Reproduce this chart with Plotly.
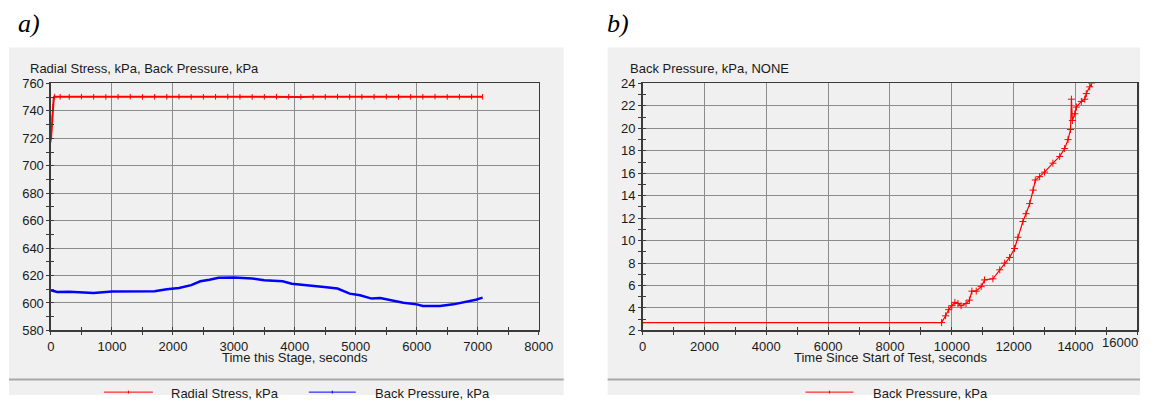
import plotly.graph_objects as go

# ---------------- data ----------------
# Panel a: Radial stress (red) vs time this stage
radial_t = [0, 10, 20, 30, 45, 60, 150, 300, 500, 700, 900, 1100, 1300, 1500, 1700, 1900,
            2100, 2300, 2500, 2700, 2900, 3100, 3300, 3500, 3700, 3900, 4100, 4300, 4500,
            4700, 4900, 5100, 5300, 5500, 5700, 5900, 6100, 6300, 6500, 6700, 6900, 7080]
radial_v = [719, 727, 735, 743, 749, 750.4, 750.3, 750.2, 750.4, 750.3, 750.2, 750.3, 750.4, 750.2,
            750.3, 750.3, 750.4, 750.2, 750.3, 750.3, 750.4, 750.3, 750.2, 750.3, 750.4, 750.3,
            750.2, 750.3, 750.3, 750.4, 750.2, 750.3, 750.3, 750.4, 750.2, 750.3, 750.3, 750.4,
            750.2, 750.3, 750.4, 750.3]

# Panel a: Back pressure (blue) vs time this stage
bp_a_t = [0, 100, 300, 500, 700, 1000, 1300, 1700, 1900, 2100, 2300, 2450, 2600, 2750, 3000,
          3300, 3500, 3800, 3950, 4250, 4480, 4700, 4900, 5070, 5260, 5400, 5560, 5780,
          6000, 6100, 6250, 6380, 6600, 6810, 6970, 7080]
bp_a_v = [609.3, 608.0, 608.2, 607.6, 607.3, 608.3, 608.4, 608.5, 610.0, 611.0, 613.0, 615.8,
          617.0, 618.4, 618.5, 617.8, 616.6, 615.8, 614.1, 612.9, 611.7, 610.5, 606.8, 605.6,
          603.2, 603.7, 602.0, 600.2, 599.0, 597.8, 597.8, 597.8, 599.0, 600.7, 602.4, 603.9]

# Panel b: Back pressure (red) vs time since start of test
bp_b_t = [0, 9670, 9800, 9900, 10000, 10100, 10200, 10300, 10460, 10570, 10650, 10790, 10950,
          11060, 11330, 11550, 11710, 11870, 12030, 12140, 12300, 12400, 12520, 12630, 12700,
          12840, 13000, 13270, 13490, 13650, 13760, 13840, 13870, 13900, 13980, 14030, 14190,
          14300, 14350, 14460, 14520]
bp_b_v = [2.7, 2.7, 3.3, 3.85, 4.2, 4.5, 4.4, 4.2, 4.4, 4.7, 5.5, 5.5, 5.9, 6.5, 6.6, 7.4,
          8.0, 8.5, 9.3, 10.3, 11.7, 12.4, 13.3, 14.5, 15.4, 15.7, 16.1, 16.9, 17.5, 18.2,
          19.0, 19.9, 22.6, 20.7, 21.3, 21.9, 22.4, 22.6, 23.1, 23.7, 24.0]

# axis ticks
a_xticks = list(range(0, 8001, 1000))
a_yticks = list(range(580, 761, 20))
b_xticks = list(range(0, 16001, 2000))
b_xticktext = [str(v) for v in b_xticks[:-1]] + [""]   # last label drawn as annotation (kept inside page)
b_yticks = list(range(2, 25, 2))

# ---------------- figure ----------------
W, H = 1154, 403
FONT = "Liberation Sans, Arial, sans-serif"
GRID = "#8c8c8c"
AXC = "#3a3a3a"
SX, OX = 0.985, 3.0   # horizontal compensation of the page capture
SY, OY = 0.963, 6.5   # vertical compensation of the page capture


def px(x):
    return (x - OX) / SX / W


def py(y):
    return 1 - ((y - OY) / SY) / H


def pp(p):
    # direct paper pixel (from top) -> paper fraction
    return 1 - p / H


fig = go.Figure()

fig.add_trace(go.Scatter(x=radial_t, y=radial_v, mode="lines+markers", name="Radial Stress, kPa",
                         line=dict(color="#ff0000", width=2),
                         marker=dict(symbol="line-ns", size=4, color="#ff0000",
                                     line=dict(width=1, color="#ff0000")),
                         xaxis="x", yaxis="y", showlegend=False))
fig.add_trace(go.Scatter(x=bp_a_t, y=bp_a_v, mode="lines", name="Back Pressure, kPa",
                         line=dict(color="#0000ff", width=2.5),
                         xaxis="x", yaxis="y", showlegend=False))
fig.add_trace(go.Scatter(x=bp_b_t, y=bp_b_v, mode="lines+markers", name="Back Pressure, kPa",
                         line=dict(color="#ff0000", width=1.2),
                         marker=dict(symbol="cross-thin", size=5, color="#ff0000",
                                     line=dict(width=1, color="#ff0000")),
                         xaxis="x2", yaxis="y2", showlegend=False, cliponaxis=True))

dom_y = [py(330), py(83)]
dom_xa = [px(50), px(538)]
dom_xb = [px(642), min(1.0, px(1137))]

common = dict(showline=True, linecolor=AXC, linewidth=1.5, mirror=True,
              showgrid=True, gridcolor=GRID, gridwidth=1, zeroline=False,
              ticks="outside", ticklen=3, tickwidth=1, tickcolor=AXC, tickformat="d",
              tickfont=dict(family=FONT, size=13, color="#1a1a1a"), fixedrange=True)

fig.update_layout(
    xaxis=dict(domain=dom_xa, anchor="y", range=[0, 8000], tickvals=a_xticks,
               minor=dict(dtick=500, ticks="outside", ticklen=3, tickcolor=AXC, showgrid=False),
               **common),
    yaxis=dict(domain=dom_y, anchor="x", range=[580, 760], tickvals=a_yticks,
               minor=dict(dtick=10, tick0=580, ticks="outside", ticklen=3, tickcolor=AXC, showgrid=False),
               **common),
    xaxis2=dict(domain=dom_xb, anchor="y2", range=[0, 16000], tickvals=b_xticks, ticktext=b_xticktext,
                minor=dict(dtick=1000, ticks="outside", ticklen=3, tickcolor=AXC, showgrid=False),
                **common),
    yaxis2=dict(domain=dom_y, anchor="x2", range=[2, 24], tickvals=b_yticks,
                minor=dict(dtick=1, tick0=2, ticks="outside", ticklen=3, tickcolor=AXC, showgrid=False),
                **common),
)

# overlay axes to make ticks cross the axis lines (inside part)
ov = dict(showline=False, showgrid=False, zeroline=False, showticklabels=False,
          ticks="inside", ticklen=3, tickwidth=1, tickcolor=AXC, fixedrange=True)
fig.update_layout(
    xaxis3=dict(overlaying="x", anchor="y", range=[0, 8000], tickvals=a_xticks,
                minor=dict(dtick=500, ticks="inside", ticklen=3, tickcolor=AXC), **ov),
    yaxis3=dict(overlaying="y", anchor="x", range=[580, 760], tickvals=a_yticks,
                minor=dict(dtick=10, tick0=580, ticks="inside", ticklen=3, tickcolor=AXC), **ov),
    xaxis4=dict(overlaying="x2", anchor="y2", range=[0, 16000], tickvals=b_xticks,
                minor=dict(dtick=1000, ticks="inside", ticklen=3, tickcolor=AXC), **ov),
    yaxis4=dict(overlaying="y2", anchor="x2", range=[2, 24], tickvals=b_yticks,
                minor=dict(dtick=1, tick0=2, ticks="inside", ticklen=3, tickcolor=AXC), **ov),
)
fig.add_trace(go.Scatter(x=[None], y=[None], xaxis="x3", yaxis="y3", showlegend=False, hoverinfo="skip"))
fig.add_trace(go.Scatter(x=[None], y=[None], xaxis="x4", yaxis="y4", showlegend=False, hoverinfo="skip"))

shapes = []
PANEL = "#f0f0f0"
shapes.append(dict(type="rect", xref="paper", yref="paper", x0=px(8), x1=px(563), y0=0, y1=py(47),
                   fillcolor=PANEL, line=dict(width=0), layer="below"))
shapes.append(dict(type="rect", xref="paper", yref="paper", x0=px(607), x1=1, y0=0, y1=py(47),
                   fillcolor=PANEL, line=dict(width=0), layer="below"))
shapes.append(dict(type="line", xref="paper", yref="paper", x0=px(8), x1=px(563), y0=py(379), y1=py(379),
                   line=dict(color="#a8a8a8", width=2)))
shapes.append(dict(type="line", xref="paper", yref="paper", x0=px(607), x1=1, y0=py(379), y1=py(379),
                   line=dict(color="#a8a8a8", width=2)))
LEG_P = 400   # paper pixel of the legend row (lowest reachable spot)
for (x0, x1, c) in [(103, 152, "#ff0000"), (308, 355, "#0000ff"), (805, 853, "#ff0000")]:
    shapes.append(dict(type="line", xref="paper", yref="paper", x0=px(x0), x1=px(x1), y0=pp(LEG_P), y1=pp(LEG_P),
                       line=dict(color=c, width=1)))
    cx = (x0 + x1) / 2
    shapes.append(dict(type="line", xref="paper", yref="paper", x0=px(cx), x1=px(cx),
                       y0=pp(LEG_P - 1.5), y1=pp(LEG_P + 1.5), line=dict(color=c, width=1)))
fig.update_layout(shapes=shapes)

ann = []


def add_text(x, yfrac, text, size=13, xanchor="left", family=FONT, italic=False, color="#1a1a1a", xval=None):
    t = f"<i>{text}</i>" if italic else text
    ann.append(dict(x=px(x) if xval is None else xval, y=yfrac, xref="paper", yref="paper", text=t,
                    showarrow=False, xanchor=xanchor, yanchor="middle",
                    font=dict(family=family, size=size, color=color)))


add_text(15, py(23), "a)", size=26, family="Liberation Serif, Times New Roman, serif", italic=True, color="#000000")
add_text(604, py(23), "b)", size=26, family="Liberation Serif, Times New Roman, serif", italic=True, color="#000000")
add_text(27, py(68), "Radial Stress, kPa, Back Pressure, kPa")
add_text(627, py(68), "Back Pressure, kPa, NONE")
add_text(294.5, py(357.5), "Time this Stage, seconds", xanchor="center")
add_text(890, py(357.5), "Time Since Start of Test, seconds", xanchor="center")
add_text(168, pp(LEG_P + 1), "Radial Stress, kPa")
add_text(372, pp(LEG_P + 1), "Back Pressure, kPa")
add_text(871, pp(LEG_P + 1), "Back Pressure, kPa")
add_text(0, py(342.5), str(b_xticks[-1]), xanchor="right", xval=1.0)

fig.update_layout(annotations=ann, autosize=False,
                  width=W, height=H, margin=dict(l=0, r=0, t=0, b=0),
                  paper_bgcolor="#ffffff", plot_bgcolor=PANEL,
                  showlegend=False)

POST = """
document.body.style.margin='0';document.body.style.padding='0';
document.documentElement.style.overflow='hidden';
var g=document.getElementById('{plot_id}');g.style.position='fixed';
g.style.left='0px';g.style.top='0px';
"""

fig.write_html("out.html",
               config={"displayModeBar": False, "staticPlot": True, "responsive": False},
               post_script=POST)
